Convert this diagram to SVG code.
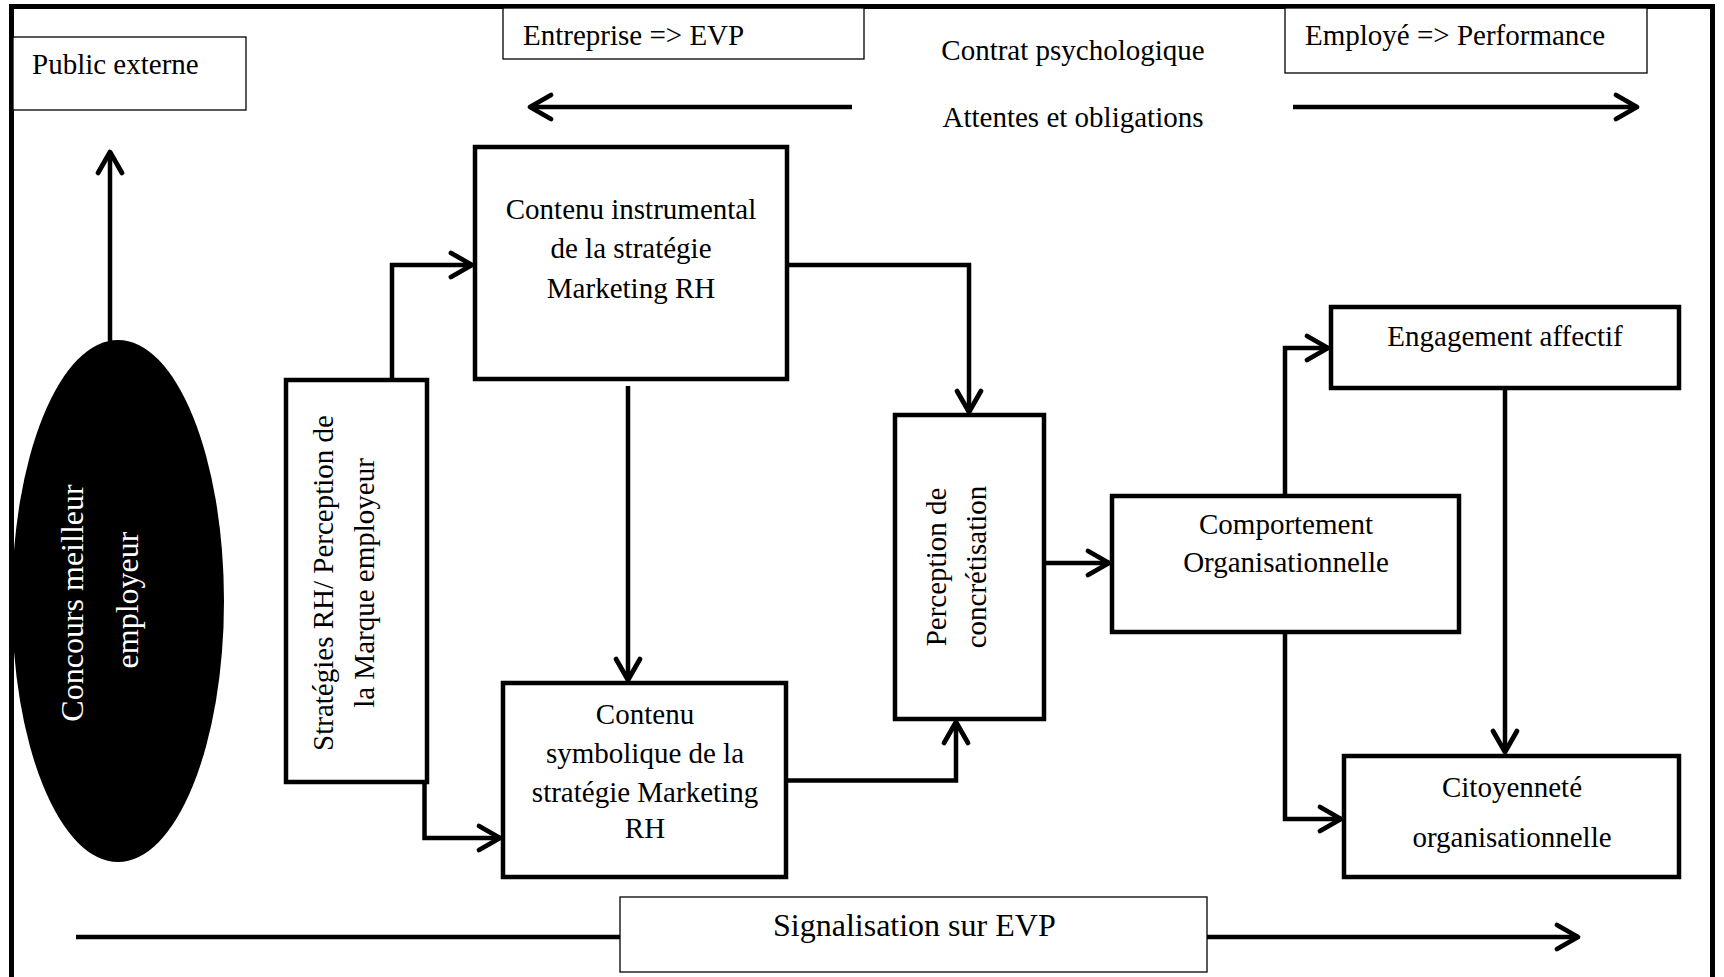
<svg xmlns="http://www.w3.org/2000/svg" width="1724" height="977" viewBox="0 0 1724 977">
  <style>
    text { font-family: "Liberation Serif", "Times New Roman", serif; font-size: 29px; fill: #000; }
    .c { text-anchor: middle; }
    .big { font-size: 32px; }
    .w { fill: #fff; }
    .thin { fill: #fff; stroke: #000; stroke-width: 1.3; }
    .thick { fill: #fff; stroke: #000; stroke-width: 4.5; }
    .conn { fill: none; stroke: #000; stroke-width: 4.5; stroke-linejoin: miter; }
    .arr { marker-end: url(#ah); }
  </style>
  <defs>
    <marker id="ah" markerUnits="userSpaceOnUse" viewBox="-26 -16 30 32" refX="0" refY="0" markerWidth="30" markerHeight="32" orient="auto">
      <path d="M-21,-12 L0,0 L-21,12" fill="none" stroke="#000" stroke-width="4.8" stroke-linecap="round" stroke-linejoin="round"/>
    </marker>
  </defs>
  <rect width="1724" height="977" fill="#fff"/>
  <rect id="frame" x="11.5" y="6.5" width="1701" height="1000" fill="none" stroke="#000" stroke-width="5"/>

  <g id="connectors">
    <path class="conn arr" d="M110,341 V152"/>
    <path class="conn arr" d="M392,379 V265 H472"/>
    <path class="conn arr" d="M424.5,782 V838 H500"/>
    <path class="conn arr" d="M628,386 V680"/>
    <path class="conn arr" d="M787,265 H969 V412"/>
    <path class="conn arr" d="M786,780.5 H956 V722"/>
    <path class="conn arr" d="M1044,563 H1109"/>
    <path class="conn arr" d="M1285,495 V348 H1328"/>
    <path class="conn arr" d="M1285,632 V819 H1341"/>
    <path class="conn arr" d="M1505,388 V752"/>
    <path class="conn arr" d="M852,107 H530"/>
    <path class="conn arr" d="M1293,107 H1637"/>
    <path class="conn" d="M76,937 H620"/>
    <path class="conn arr" d="M1207,937 H1578"/>
  </g>

  <g id="public-externe">
    <rect class="thin" x="13" y="37" width="233" height="73"/>
    <text x="32" y="74">Public externe</text>
  </g>
  <g id="entreprise-evp">
    <rect class="thin" x="503" y="8" width="361" height="51"/>
    <text x="523" y="45">Entreprise =&gt; EVP</text>
  </g>
  <g id="employe-performance">
    <rect class="thin" x="1285" y="8" width="362" height="65"/>
    <text x="1305" y="45">Employé =&gt; Performance</text>
  </g>
  <g id="contrat">
    <text class="c" x="1073" y="60">Contrat psychologique</text>
    <text class="c" x="1073" y="127">Attentes et obligations</text>
  </g>
  <g id="signalisation">
    <rect class="thin" x="620" y="897" width="587" height="75"/>
    <text class="big" x="773" y="936">Signalisation sur EVP</text>
  </g>

  <g id="concours">
    <ellipse cx="118" cy="601" rx="106" ry="261" fill="#000"/>
    <text class="c big w" transform="translate(83,603) rotate(-90)">Concours meilleur</text>
    <text class="c big w" transform="translate(138,600) rotate(-90)">employeur</text>
  </g>
  <g id="strategies">
    <rect class="thick" x="286" y="380" width="141" height="402"/>
    <text class="c" transform="translate(333,583) rotate(-90)">Stratégies RH/ Perception de</text>
    <text class="c" transform="translate(374,583) rotate(-90)">la Marque employeur</text>
  </g>
  <g id="instrumental">
    <rect class="thick" x="475" y="147" width="312" height="232"/>
    <text class="c" x="631" y="219">Contenu instrumental</text>
    <text class="c" x="631" y="258">de la stratégie</text>
    <text class="c" x="631" y="298">Marketing RH</text>
  </g>
  <g id="symbolique">
    <rect class="thick" x="503" y="683" width="283" height="194"/>
    <text class="c" x="645" y="724">Contenu</text>
    <text class="c" x="645" y="763">symbolique de la</text>
    <text class="c" x="645" y="802">stratégie Marketing</text>
    <text class="c" x="645" y="838">RH</text>
  </g>
  <g id="perception">
    <rect class="thick" x="895" y="415" width="149" height="304"/>
    <text class="c" transform="translate(946,567) rotate(-90)">Perception de</text>
    <text class="c" transform="translate(986,567) rotate(-90)">concrétisation</text>
  </g>
  <g id="comportement">
    <rect class="thick" x="1112" y="496" width="347" height="136"/>
    <text class="c" x="1286" y="534">Comportement</text>
    <text class="c" x="1286" y="572">Organisationnelle</text>
  </g>
  <g id="engagement">
    <rect class="thick" x="1331" y="307" width="348" height="81"/>
    <text class="c" x="1505" y="346">Engagement affectif</text>
  </g>
  <g id="citoyennete">
    <rect class="thick" x="1344" y="756" width="335" height="121"/>
    <text class="c" x="1512" y="797">Citoyenneté</text>
    <text class="c" x="1512" y="847">organisationnelle</text>
  </g>
</svg>
